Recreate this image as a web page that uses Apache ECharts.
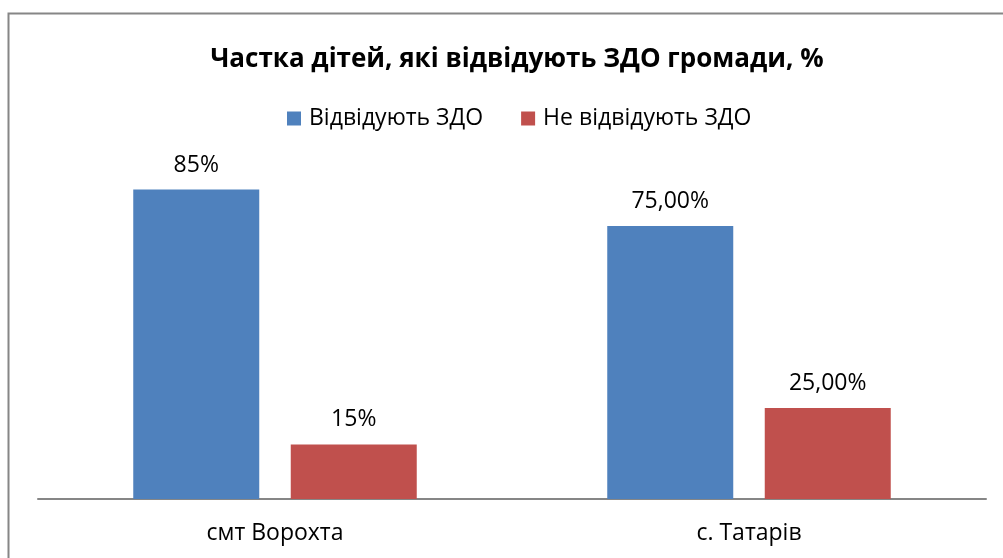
<!DOCTYPE html>
<html>
<head>
<meta charset="utf-8">
<script src="https://cdn.jsdelivr.net/npm/echarts@6/dist/echarts.min.js"></script>
<style>
  html, body { margin: 0; padding: 0; background: #fff; }
  #chart { width: 1003px; height: 558px; }
</style>
</head>
<body>
<div id="chart"></div>
<script>
const categories = ['смт Ворохта', 'с. Татарів']
const attendValues = [0.85, 0.75]
const notAttendValues = [0.15, 0.25]
const attendLabels = ['85%', '75,00%']
const notAttendLabels = ['15%', '25,00%']

const font = '"Open Sans", "Noto Sans", sans-serif'

const chart = echarts.init(document.getElementById('chart'))

chart.setOption({
  animation: false,
  title: {
    text: 'Частка дітей, які відвідують ЗДО громади, %',
    left: 512,
    textAlign: 'center',
    top: 42,
    textStyle: { fontFamily: font, fontSize: 26, fontWeight: 'bold', color: '#000' }
  },
  legend: {
    top: 102,
    left: 282,
    itemWidth: 14,
    itemHeight: 14,
    itemGap: 38,
    icon: 'rect',
    textStyle: { fontFamily: font, fontSize: 23, color: '#000', padding: [0, 0, 0, 3] }
  },
  graphic: [
    {
      type: 'rect',
      shape: { x: 8.5, y: 13.5, width: 1100, height: 600 },
      style: { fill: 'none', stroke: '#868686', lineWidth: 2 },
      silent: true
    }
  ],
  grid: { left: 38, right: 17, top: 135, bottom: 59 },
  xAxis: {
    type: 'category',
    data: categories,
    axisTick: { show: false },
    axisLine: { lineStyle: { color: '#868686', width: 2 } },
    axisLabel: { fontFamily: font, fontSize: 23, color: '#000', margin: 23 }
  },
  yAxis: {
    type: 'value',
    min: 0,
    max: 1,
    show: false
  },
  series: [
    {
      name: 'Відвідують ЗДО',
      type: 'bar',
      data: attendValues,
      barWidth: 126,
      barGap: '25%',
      itemStyle: { color: '#4f81bd' },
      label: {
        show: true,
        position: 'top',
        distance: 13,
        fontFamily: font,
        fontSize: 23,
        color: '#000',
        formatter: p => attendLabels[p.dataIndex]
      }
    },
    {
      name: 'Не відвідують ЗДО',
      type: 'bar',
      data: notAttendValues,
      barWidth: 126,
      barGap: '25%',
      itemStyle: { color: '#c0504d' },
      label: {
        show: true,
        position: 'top',
        distance: 13,
        fontFamily: font,
        fontSize: 23,
        color: '#000',
        formatter: p => notAttendLabels[p.dataIndex]
      }
    }
  ]
})

window.addEventListener('resize', () => chart.resize())
</script>
</body>
</html>
